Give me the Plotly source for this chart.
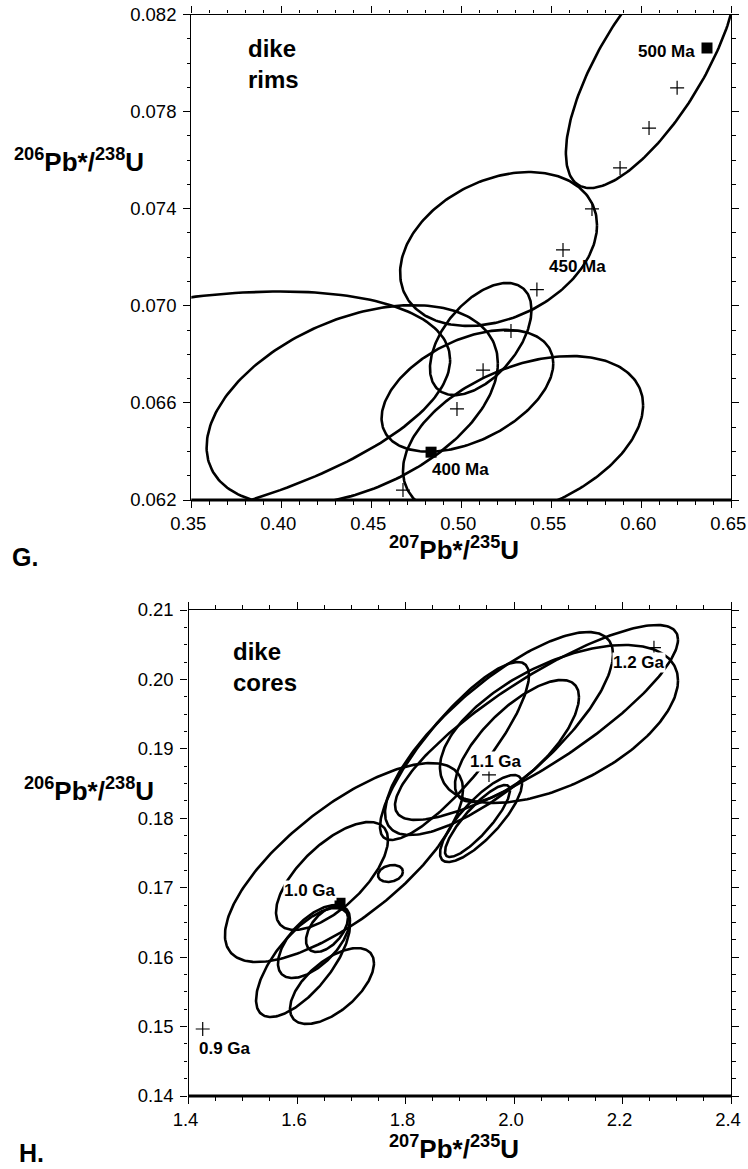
import numpy as np
import plotly.graph_objects as go

# ---------------- G: dike rims ----------------
# error ellipses: centre, half-extent in x and y, and x-y correlation
g_cx = [0.6059, 0.5207, 0.3221, 0.4394, 0.5343, 0.5108, 0.5034]
g_cy = [0.0800, 0.07234, 0.06546, 0.06591, 0.06456, 0.06863, 0.06650]
g_sx = [0.0478, 0.0547, 0.1717, 0.0809, 0.0667, 0.0282, 0.0477]
g_sy = [0.00515, 0.00317, 0.00513, 0.00412, 0.00337, 0.00231, 0.00251]
g_rho = [0.72, 0.31, 0.45, 0.42, 0.40, 0.52, 0.45]

# concordia age ticks (10 Ma steps) and labelled ages
g_tick_x = [0.4676, 0.4976, 0.5121, 0.5276, 0.5420, 0.5565, 0.5726, 0.5882, 0.6043, 0.6199]
g_tick_y = [0.06241, 0.06575, 0.06735, 0.06896, 0.07067, 0.07230, 0.07399, 0.07568, 0.07732, 0.07898]
g_box_x = [0.4832, 0.6365]
g_box_y = [0.06397, 0.08062]
g_age_text = ["400 Ma", "450 Ma", "500 Ma"]
g_age_x = [0.4997, 0.5643, 0.6140]
g_age_y = [0.06326, 0.07161, 0.08047]

# ---------------- H: dike cores ----------------
h_cx = [1.6866, 1.6645, 1.6553, 1.6111, 1.6645, 1.6313, 1.7723, 1.8903, 2.0055, 1.9327, 1.9392, 2.0415, 2.0829, 1.9724]
h_cy = [0.17363, 0.17169, 0.16405, 0.15923, 0.15584, 0.16225, 0.17205, 0.18969, 0.19113, 0.17961, 0.17997, 0.19380, 0.19358, 0.19221]
h_sx = [0.2194, 0.1032, 0.0387, 0.0866, 0.0774, 0.0664, 0.0230, 0.1373, 0.1143, 0.0599, 0.0756, 0.2608, 0.2194, 0.2101]
h_sy = [0.01433, 0.00778, 0.00331, 0.00785, 0.00547, 0.00526, 0.00122, 0.01282, 0.00879, 0.00519, 0.00627, 0.01404, 0.01138, 0.01462]
h_rho = [0.73, 0.67, 0.5, 0.69, 0.6, 0.6, 0.2, 0.85, 0.72, 0.85, 0.8, 0.85, 0.55, 0.78]

h_tick_x = [1.4262, 1.9539, 2.2580]
h_tick_y = [0.14965, 0.18624, 0.20457]
h_box_x = [1.6793]
h_box_y = [0.16776]
h_age_text = ["0.9 Ga", "1.0 Ga", "1.1 Ga", "1.2 Ga"]
h_age_x = [1.4664, 1.6240, 1.9677, 2.2313]
h_age_y = [0.14687, 0.16967, 0.18815, 0.20237]

FONT = "Liberation Sans, Arial, Helvetica, sans-serif"
W, H = 748, 1169


def ellipse(cx, cy, sx, sy, rho, n=240):
    t = np.linspace(0, 2 * np.pi, n)
    x = cx + sx * np.cos(t)
    y = cy + sy * (rho * np.cos(t) + np.sqrt(1 - rho ** 2) * np.sin(t))
    return x, y


fig = go.Figure()

line_style = dict(color="black", width=2.6)
for cx, cy, sx, sy, r in zip(g_cx, g_cy, g_sx, g_sy, g_rho):
    x, y = ellipse(cx, cy, sx, sy, r)
    fig.add_trace(go.Scatter(x=x, y=y, mode="lines", line=line_style,
                             xaxis="x", yaxis="y", hoverinfo="skip"))
for cx, cy, sx, sy, r in zip(h_cx, h_cy, h_sx, h_sy, h_rho):
    x, y = ellipse(cx, cy, sx, sy, r)
    fig.add_trace(go.Scatter(x=x, y=y, mode="lines", line=line_style,
                             xaxis="x2", yaxis="y2", hoverinfo="skip"))

cross = dict(symbol="cross-thin", size=10, line=dict(color="black", width=1.2), color="black")
square = dict(symbol="square", size=11, color="black")
fig.add_trace(go.Scatter(x=g_tick_x, y=g_tick_y, mode="markers", marker=cross,
                         xaxis="x", yaxis="y", cliponaxis=False))
fig.add_trace(go.Scatter(x=g_box_x, y=g_box_y, mode="markers", marker=square,
                         xaxis="x", yaxis="y", cliponaxis=False))
fig.add_trace(go.Scatter(x=h_tick_x, y=h_tick_y, mode="markers", marker=cross,
                         xaxis="x2", yaxis="y2", cliponaxis=False))
fig.add_trace(go.Scatter(x=h_box_x, y=h_box_y, mode="markers", marker=square,
                         xaxis="x2", yaxis="y2", cliponaxis=False))

age_font = dict(size=17, family=FONT, color="black")
annotations = []
for txt, x, y in zip(g_age_text, g_age_x, g_age_y):
    annotations.append(dict(x=x, y=y, xref="x", yref="y", text="<b>%s</b>" % txt,
                            xanchor="center", yanchor="middle", showarrow=False, font=age_font))
for txt, x, y in zip(h_age_text, h_age_x, h_age_y):
    annotations.append(dict(x=x, y=y, xref="x2", yref="y2", text="<b>%s</b>" % txt,
                            xanchor="center", yanchor="middle", showarrow=False,
                            bgcolor="white", borderpad=0, font=age_font))


def paper_text(px, py, text, size, xanchor="center", align="center"):
    return dict(x=px / W, y=1 - py / H, xref="paper", yref="paper", text=text,
                xanchor=xanchor, yanchor="middle", align=align, showarrow=False,
                font=dict(size=size, family=FONT, color="black"))


ytitle = "<b><sup>206</sup>Pb*/<sup>238</sup>U</b>"
xtitle = "<b><sup>207</sup>Pb*/<sup>235</sup>U</b>"
annotations += [
    paper_text(78.5, 160, ytitle, 26),
    paper_text(88.5, 789, ytitle, 26),
    paper_text(454, 549, xtitle, 26),
    paper_text(454, 1147, xtitle, 26),
    paper_text(10, 557, "<b>G.</b>", 25, xanchor="left"),
    paper_text(17, 1153, "<b>H.</b>", 25, xanchor="left"),
    paper_text(246, 64, "<b>dike<br>rims</b>", 24, xanchor="left", align="left"),
    paper_text(231, 667, "<b>dike<br>cores</b>", 24, xanchor="left", align="left"),
]

tick_font = dict(size=18.5, family=FONT, color="black")


def axis(domain, rng, dtick, minor_dtick, fmt, anchor, is_x):
    ax = dict(domain=domain, range=rng, dtick=dtick, tick0=rng[0], tickformat=fmt,
              showline=True, linecolor="black", linewidth=1.3, mirror="allticks",
              ticks="outside", ticklen=7, tickwidth=1.3, tickcolor="black",
              minor=dict(dtick=minor_dtick, ticks="outside", ticklen=3.5, tickwidth=1.1,
                         tickcolor="black"),
              showgrid=False, zeroline=False, tickfont=tick_font, anchor=anchor,
              automargin=False, ticklabeloverflow="allow", fixedrange=True)
    if is_x:
        ax["ticklabelshift"] = -3
    else:
        ax["ticklabelstandoff"] = 3
    return ax


fig.update_layout(
    width=W, height=H, margin=dict(l=0, r=0, t=0, b=0, pad=0, autoexpand=False),
    paper_bgcolor="white", plot_bgcolor="white", showlegend=False,
    xaxis=axis([191.3 / W, 731.3 / W], [0.35, 0.65], 0.05, 0.01, ".2f", "y", True),
    yaxis=axis([1 - 500 / H, 1 - 14.5 / H], [0.062, 0.082], 0.004, 0.001, ".3f", "x", False),
    xaxis2=axis([188.5 / W, 731 / W], [1.4, 2.4], 0.2, 0.05, ".1f", "y2", True),
    yaxis2=axis([1 - 1096 / H, 1 - 610 / H], [0.14, 0.21], 0.01, 0.0025, ".2f", "x2", False),
    annotations=annotations,
    shapes=[
        dict(type="line", xref="x domain", yref="y domain", x0=0, x1=1, y0=0, y1=0,
             line=dict(color="black", width=3)),
        dict(type="line", xref="x2 domain", yref="y2 domain", x0=0, x1=1, y0=0, y1=0,
             line=dict(color="black", width=3)),
    ],
)

fig.write_html("out.html")
